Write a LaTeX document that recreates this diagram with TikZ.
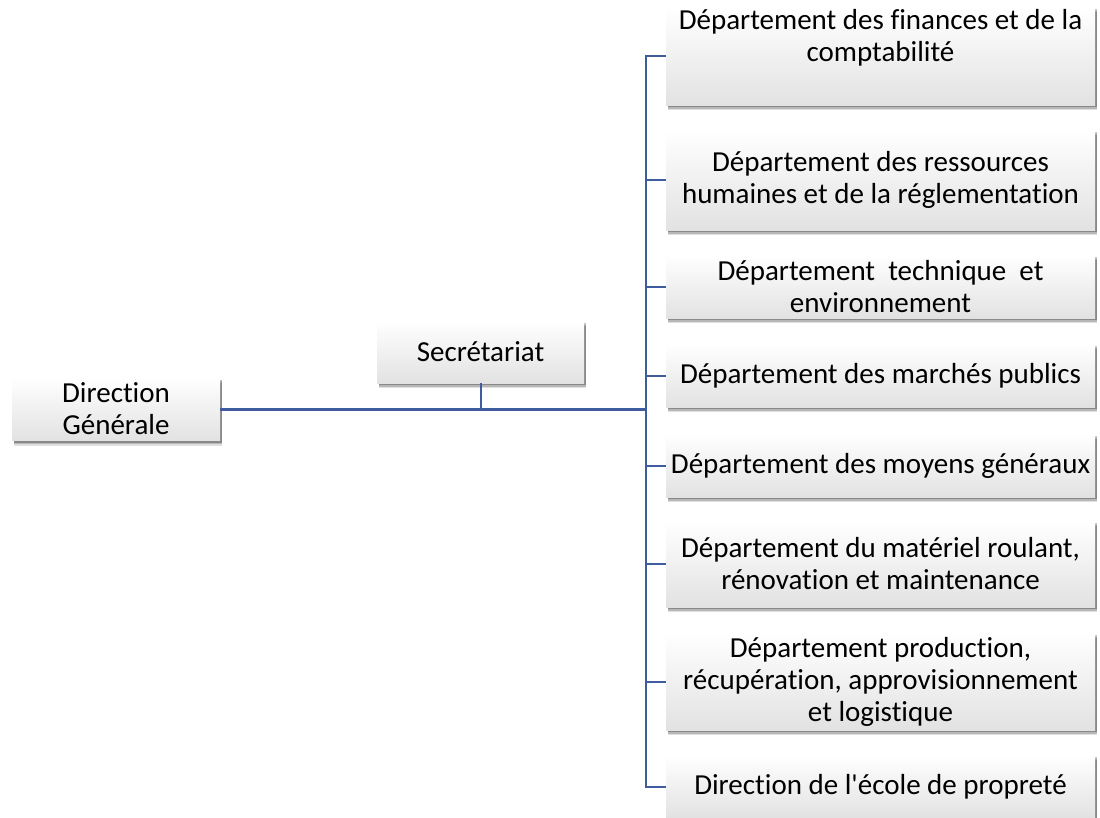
\documentclass[tikz,border=0pt]{standalone}
\usepackage{fontspec}
\setmainfont[Ligatures={NoCommon}]{Carlito}
\newfontfamily\apofont{Carlito}
\usetikzlibrary{shadows,calc}
\definecolor{linec}{RGB}{62,92,158}
\definecolor{boxbot}{RGB}{226,226,226}
\tikzset{
  boxn/.style={inner sep=0pt, align=center,
    font=\fontsize{29}{32}\selectfont,
    top color=white, bottom color=boxbot,
    general shadow={shadow xshift=2pt, shadow yshift=-5pt, fill=black, opacity=0.12},
    general shadow={shadow xshift=2pt, shadow yshift=-3.5pt, fill=black, opacity=0.18},
    general shadow={shadow xshift=1.5pt, shadow yshift=-2pt, fill=black, opacity=0.25}},
  rbox/.style={boxn, minimum width=429pt},
  conn/.style={draw=linec, line width=2pt},
  mainconn/.style={draw=linec, line width=3pt}
}
\begin{document}
\begin{tikzpicture}[x=1pt,y=-1pt]
\useasboundingbox (0,0) rectangle (1100,817);
\fill[white] (0,0) rectangle (1100,817);
\coordinate (bus) at (646,409);
\node[boxn, minimum width=208pt, minimum height=63pt] (dg) at (116,409) {Direction\\Générale};
\node[boxn, minimum width=207pt, minimum height=62pt] (sec) at (480.5,352) {Secrétariat};
\node[rbox, minimum height=98pt] (d1) at (880.5,56) {Département des finances et de la\\comptabilité\\\strut};
\node[rbox, minimum height=100pt] (d2) at (880.5,180) {Département des ressources\\humaines et de la réglementation};
\node[rbox, minimum height=63pt] (d3) at (880.5,286.5) {Département\ \ technique\ \ et\\environnement};
\node[rbox, minimum height=63pt] (d4) at (880.5,375.5) {Département des marchés publics};
\node[rbox, minimum height=63pt] (d5) at (880.5,465.5) {Département des moyens généraux};
\node[rbox, minimum height=86pt] (d6) at (880.5,564) {Département du matériel roulant,\\rénovation et maintenance};
\node[rbox, minimum height=97pt] (d7) at (880.5,681.5) {Département production,\\récupération, approvisionnement\\et logistique};
\node[rbox, minimum height=63pt] (d8) at (880.5,786.5) {Direction de l{\apofont'}école de propreté};
\draw[mainconn] (dg.east) -- (bus);
\draw[conn] (sec.south) -- (sec.south |- bus);
\draw[conn] (d1.west) -| (bus);
\draw[conn] (d8.west) -| (bus);
\foreach \n in {d2,d3,d4,d5,d6,d7}{
  \draw[conn] (\n.west) -- (\n.west -| bus);
}
\end{tikzpicture}
\end{document}
